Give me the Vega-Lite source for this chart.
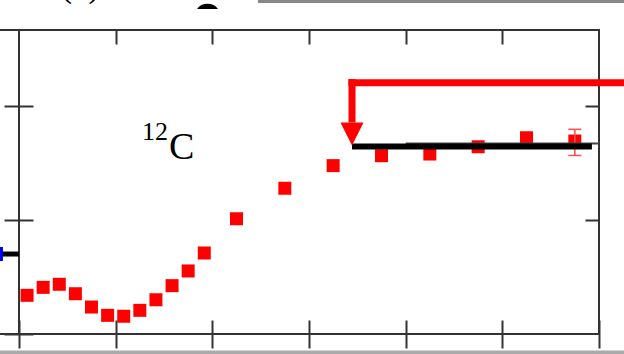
{
  "$schema": "https://vega.github.io/schema/vega-lite/v6.json",
  "width": 580,
  "height": 304,
  "autosize": "none",
  "padding": {"left": 19, "top": 30, "right": 25, "bottom": 20},
  "background": "white",
  "config": {
    "view": {"stroke": "#333333", "strokeWidth": 2},
    "axis": {"domain": false, "labels": false, "grid": false, "title": null, "tickColor": "#333333", "tickWidth": 2}
  },
  "encoding": {
    "x": {"field": "x", "type": "quantitative", "scale": {"domain": [0, 36], "nice": false, "zero": false}, "axis": null},
    "y": {"field": "y", "type": "quantitative", "scale": {"domain": [0, 2.672], "nice": false, "zero": false}, "axis": null}
  },
  "layer": [
    {
      "data": {"values": [
        {"x": 0.5, "y": 0.340}, {"x": 1.5, "y": 0.410}, {"x": 2.5, "y": 0.437}, {"x": 3.5, "y": 0.354},
        {"x": 4.5, "y": 0.237}, {"x": 5.5, "y": 0.164}, {"x": 6.5, "y": 0.156}, {"x": 7.5, "y": 0.208},
        {"x": 8.5, "y": 0.301}, {"x": 9.5, "y": 0.425}, {"x": 10.5, "y": 0.554}, {"x": 11.5, "y": 0.712},
        {"x": 13.5, "y": 1.013}, {"x": 16.5, "y": 1.281}, {"x": 19.5, "y": 1.480}, {"x": 22.5, "y": 1.567},
        {"x": 25.5, "y": 1.582}, {"x": 28.5, "y": 1.646}, {"x": 31.5, "y": 1.725}, {"x": 34.5, "y": 1.696}
      ]},
      "mark": {"type": "point", "shape": "square", "filled": true, "size": 169, "color": "#ff0000", "opacity": 1},
      "encoding": {
        "x": {"field": "x", "type": "quantitative", "scale": {"domain": [0, 36], "nice": false, "zero": false},
              "axis": {"orient": "bottom", "offset": -14, "tickSize": 28, "values": [0, 6, 12, 18, 24, 30, 36]}},
        "y": {"field": "y", "type": "quantitative", "scale": {"domain": [0, 2.672], "nice": false, "zero": false},
              "axis": {"orient": "left", "offset": -14, "tickSize": 29, "values": [0, 1, 2]}}
      }
    },
    {
      "data": {"values": [{"x": 34.5, "lo": 1.569, "hi": 1.799}]},
      "layer": [
        {"mark": {"type": "rule", "color": "#ff4d4d", "strokeWidth": 1.5},
         "encoding": {"y": {"field": "lo", "type": "quantitative", "scale": {"domain": [0, 2.672], "nice": false, "zero": false}, "axis": null}, "y2": {"field": "hi"}}},
        {"mark": {"type": "tick", "orient": "horizontal", "color": "#ff4d4d", "size": 13, "thickness": 1.5, "opacity": 1},
         "encoding": {"y": {"field": "lo", "type": "quantitative", "scale": {"domain": [0, 2.672], "nice": false, "zero": false}, "axis": null}}},
        {"mark": {"type": "tick", "orient": "horizontal", "color": "#ff4d4d", "size": 13, "thickness": 1.5, "opacity": 1},
         "encoding": {"y": {"field": "hi", "type": "quantitative", "scale": {"domain": [0, 2.672], "nice": false, "zero": false}, "axis": null}}}
      ]
    },
    {
      "data": {"values": [{"x": 24.0, "x2": 36.0, "y": 1.674}]},
      "mark": {"type": "rule", "color": "#444444", "strokeWidth": 2},
      "encoding": {"x2": {"field": "x2"}}
    },
    {
      "data": {"values": [{"x": 20.67, "x2": 35.56, "y": 1.648}]},
      "mark": {"type": "rule", "color": "#000000", "strokeWidth": 6},
      "encoding": {
        "x": {"field": "x", "type": "quantitative", "scale": {"domain": [0, 36], "nice": false, "zero": false},
              "axis": {"orient": "top", "offset": -14, "tickSize": 14, "values": [6, 12, 18, 24, 30]}},
        "x2": {"field": "x2"},
        "y": {"field": "y", "type": "quantitative", "scale": {"domain": [0, 2.672], "nice": false, "zero": false},
              "axis": {"orient": "right", "offset": -14, "tickSize": 14, "values": [1, 2]}}
      }
    },
    {
      "data": {"values": [{"x": 20.45, "x2": 38.5, "y": 2.209}]},
      "mark": {"type": "rule", "color": "#ff0000", "strokeWidth": 7},
      "encoding": {"x2": {"field": "x2"}}
    },
    {
      "data": {"values": [{"x": 20.67, "y": 2.241, "y2": 1.86}]},
      "mark": {"type": "rule", "color": "#ff0000", "strokeWidth": 7},
      "encoding": {"y2": {"field": "y2"}}
    },
    {
      "data": {"values": [{"x": 20.67, "y": 1.758}]},
      "mark": {"type": "point", "shape": "M-1,-1L1,-1L0,1Z", "filled": true, "size": 529, "color": "#ff0000", "opacity": 1, "strokeWidth": 0}
    },
    {
      "data": {"values": [{"x": 7.635, "y": 1.705, "label": "12"}]},
      "mark": {"type": "text", "font": "Liberation Serif", "fontSize": 26, "align": "left", "baseline": "alphabetic", "color": "#000000"},
      "encoding": {"text": {"field": "label"}}
    },
    {
      "data": {"values": [{"x": 9.31, "y": 1.534, "label": "C"}]},
      "mark": {"type": "text", "font": "Liberation Serif", "fontSize": 38, "align": "left", "baseline": "alphabetic", "color": "#000000"},
      "encoding": {"text": {"field": "label"}}
    },
    {
      "data": {"values": [{"x": -1.5, "x2": 0, "y": 0.703}]},
      "mark": {"type": "rule", "color": "#000000", "strokeWidth": 5},
      "encoding": {"x2": {"field": "x2"}}
    },
    {
      "data": {"values": [{"x": -1.5, "x2": 0, "y": 0}, {"x": -1.5, "x2": 0, "y": 2.672}]},
      "mark": {"type": "rule", "color": "#333333", "strokeWidth": 2},
      "encoding": {"x2": {"field": "x2"}}
    },
    {
      "data": {"values": [{"x": -1.43, "y": 0.703}]},
      "mark": {"type": "point", "shape": "square", "filled": true, "size": 196, "color": "#0000ff", "opacity": 1}
    },
    {
      "data": {"values": [{"x": 14.83, "x2": 38.5, "y": 2.909, "y2": 3.0}]},
      "mark": {"type": "rect", "color": "#888888"},
      "encoding": {"x2": {"field": "x2"}, "y2": {"field": "y2"}}
    },
    {
      "data": {"values": [{"x": -1.5, "x2": 38.5, "y": -0.145, "y2": -0.25}]},
      "mark": {"type": "rect", "color": "#aaaaaa"},
      "encoding": {"x2": {"field": "x2"}, "y2": {"field": "y2"}}
    },
    {
      "data": {"values": [{"x": 2.607, "y": 2.962, "label": "(b)"}]},
      "mark": {"type": "text", "font": "Liberation Serif", "fontSize": 33, "align": "left", "baseline": "alphabetic", "color": "#000000"},
      "encoding": {"text": {"field": "label"}}
    },
    {
      "data": {"values": [{"x": 11.70, "y": 2.949}]},
      "mark": {"type": "point", "shape": "M-1,1C-0.6,0.33 0.6,0.33 1,1Z", "filled": true, "size": 441, "color": "#000000", "opacity": 1, "strokeWidth": 0}
    }
  ],
  "resolve": {"axis": {"x": "independent", "y": "independent"}}
}
